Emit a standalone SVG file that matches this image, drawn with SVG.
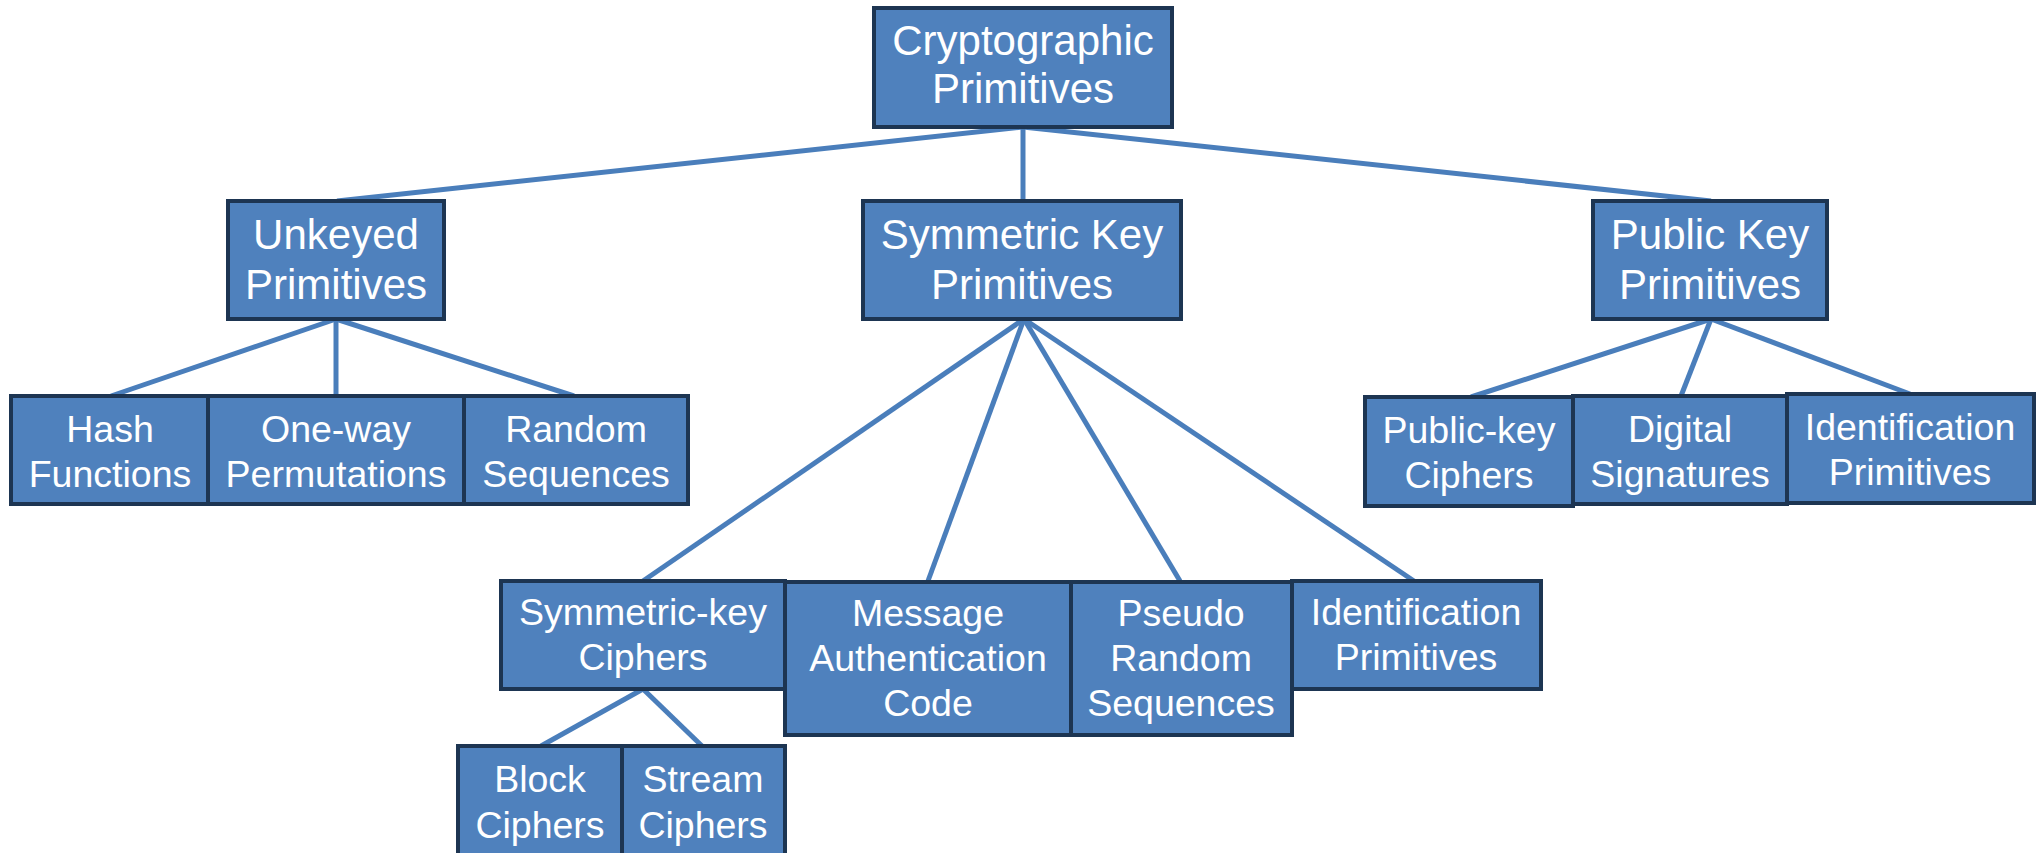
<svg xmlns="http://www.w3.org/2000/svg" width="2042" height="853" viewBox="0 0 2042 853">
  <style>
    .box { fill: #4f81bd; stroke: #1d3552; stroke-width: 4; }
    .lbl { fill: #ffffff; font-family: "Liberation Sans", Arial, sans-serif; text-anchor: middle; }
    .big { font-size: 42px; }
    .small { font-size: 37.5px; }
    .conn { stroke: #4a7ebb; stroke-width: 5; fill: none; stroke-linecap: butt; }
  </style>
  <rect width="2042" height="853" fill="#ffffff"/>

  <!-- connectors -->
  <g id="connectors" class="conn">
    <line x1="1023" y1="127" x2="337" y2="201"/>
    <line x1="1023" y1="127" x2="1023" y2="201"/>
    <line x1="1023" y1="127" x2="1711" y2="201"/>

    <line x1="336" y1="319" x2="111" y2="396"/>
    <line x1="336" y1="319" x2="336" y2="396"/>
    <line x1="336" y1="319" x2="574" y2="396"/>

    <line x1="1024" y1="319" x2="643" y2="581"/>
    <line x1="1024" y1="319" x2="928" y2="581"/>
    <line x1="1024" y1="319" x2="1180" y2="581"/>
    <line x1="1024" y1="319" x2="1414" y2="581"/>

    <line x1="643" y1="689" x2="541" y2="746"/>
    <line x1="643" y1="689" x2="702" y2="746"/>

    <line x1="1711" y1="319" x2="1471" y2="397"/>
    <line x1="1711" y1="319" x2="1681" y2="396"/>
    <line x1="1711" y1="319" x2="1910" y2="394"/>
  </g>

  <!-- root -->
  <g id="root">
    <rect class="box" x="874" y="8" width="298" height="119"/>
    <text class="lbl big" x="1023" y="55">Cryptographic</text>
    <text class="lbl big" x="1023" y="103">Primitives</text>
  </g>

  <!-- second level -->
  <g id="unkeyed">
    <rect class="box" x="228" y="201" width="216" height="118"/>
    <text class="lbl big" x="336" y="249">Unkeyed</text>
    <text class="lbl big" x="336" y="299">Primitives</text>
  </g>
  <g id="symmetric">
    <rect class="box" x="863" y="201" width="318" height="118"/>
    <text class="lbl big" x="1022" y="249">Symmetric Key</text>
    <text class="lbl big" x="1022" y="299">Primitives</text>
  </g>
  <g id="public">
    <rect class="box" x="1593" y="201" width="234" height="118"/>
    <text class="lbl big" x="1710" y="249">Public Key</text>
    <text class="lbl big" x="1710" y="299">Primitives</text>
  </g>

  <!-- unkeyed children -->
  <g id="hash">
    <rect class="box" x="11" y="396" width="197" height="108"/>
    <text class="lbl small" x="110" y="442">Hash</text>
    <text class="lbl small" x="110" y="487">Functions</text>
  </g>
  <g id="oneway">
    <rect class="box" x="208" y="396" width="256" height="108"/>
    <text class="lbl small" x="336" y="442">One-way</text>
    <text class="lbl small" x="336" y="487">Permutations</text>
  </g>
  <g id="random">
    <rect class="box" x="464" y="396" width="224" height="108"/>
    <text class="lbl small" x="576" y="442">Random</text>
    <text class="lbl small" x="576" y="487">Sequences</text>
  </g>

  <!-- symmetric children -->
  <g id="symciphers">
    <rect class="box" x="501" y="581" width="284" height="108"/>
    <text class="lbl small" x="643" y="625">Symmetric-key</text>
    <text class="lbl small" x="643" y="670">Ciphers</text>
  </g>
  <g id="mac">
    <rect class="box" x="785" y="582" width="286" height="153"/>
    <text class="lbl small" x="928" y="626">Message</text>
    <text class="lbl small" x="928" y="671">Authentication</text>
    <text class="lbl small" x="928" y="716">Code</text>
  </g>
  <g id="pseudo">
    <rect class="box" x="1071" y="582" width="221" height="153"/>
    <text class="lbl small" x="1181" y="626">Pseudo</text>
    <text class="lbl small" x="1181" y="671">Random</text>
    <text class="lbl small" x="1181" y="716">Sequences</text>
  </g>
  <g id="symident">
    <rect class="box" x="1292" y="581" width="249" height="108"/>
    <text class="lbl small" x="1416" y="625">Identification</text>
    <text class="lbl small" x="1416" y="670">Primitives</text>
  </g>

  <!-- cipher kinds -->
  <g id="block">
    <rect class="box" x="458" y="746" width="164" height="112"/>
    <text class="lbl small" x="540" y="792">Block</text>
    <text class="lbl small" x="540" y="838">Ciphers</text>
  </g>
  <g id="stream">
    <rect class="box" x="622" y="746" width="163" height="112"/>
    <text class="lbl small" x="703" y="792">Stream</text>
    <text class="lbl small" x="703" y="838">Ciphers</text>
  </g>

  <!-- public key children -->
  <g id="pkciphers">
    <rect class="box" x="1365" y="397" width="208" height="109"/>
    <text class="lbl small" x="1469" y="443">Public-key</text>
    <text class="lbl small" x="1469" y="488">Ciphers</text>
  </g>
  <g id="signatures">
    <rect class="box" x="1573" y="396" width="214" height="108"/>
    <text class="lbl small" x="1680" y="442">Digital</text>
    <text class="lbl small" x="1680" y="487">Signatures</text>
  </g>
  <g id="pkident">
    <rect class="box" x="1787" y="394" width="247" height="109"/>
    <text class="lbl small" x="1910" y="440">Identification</text>
    <text class="lbl small" x="1910" y="485">Primitives</text>
  </g>
</svg>
